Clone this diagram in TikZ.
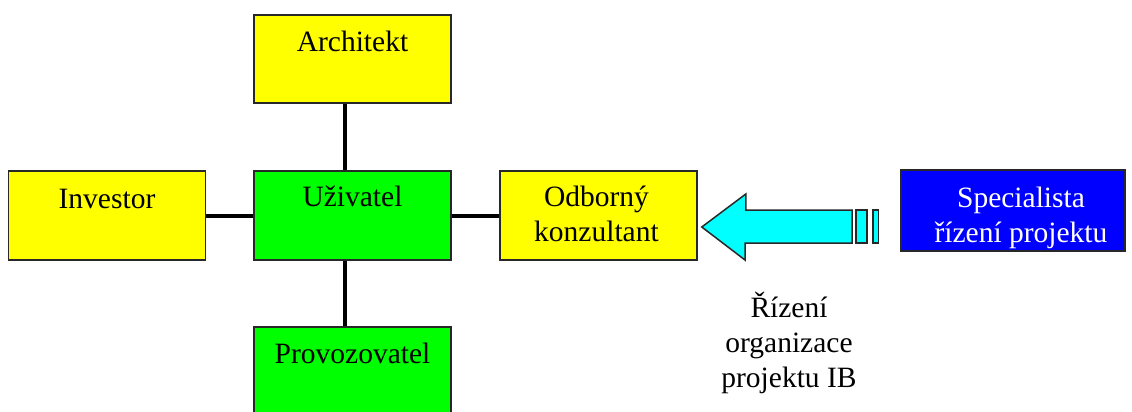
\documentclass[tikz,border=0pt]{standalone}
\usepackage{fontspec}
\setmainfont{Liberation Serif}
\usetikzlibrary{calc}
\definecolor{partyellow}{RGB}{255,255,0}
\definecolor{partgreen}{RGB}{0,255,0}
\definecolor{partblue}{RGB}{0,0,255}
\definecolor{flowcyan}{RGB}{0,255,255}
\definecolor{edgegray}{RGB}{40,40,40}
\tikzset{
  partybox/.style={draw=edgegray, line width=1.5pt, minimum width=197pt,
    minimum height=89pt, inner sep=0pt},
  % multi-line captions: base anchor sits on the last line
  boxtext/.style={anchor=base, align=center, inner sep=0pt,
    font=\fontsize{29.5}{35}\selectfont},
  link/.style={line width=4pt, black},
  flow/.style={draw=edgegray, line width=1.5pt, fill=flowcyan, line join=miter}
}
\begin{document}
\begin{tikzpicture}[x=1pt,y=-1pt]
\useasboundingbox (0,0) rectangle (1132,412);
\clip (0,0) rectangle (1132,412);

% participant boxes
\node[partybox, fill=partyellow, minimum height=88pt] (arch) at (352.5,59) {};
\node[partybox, fill=partyellow] (inv)  at (107,215.5) {};
\node[partybox, fill=partgreen]  (uziv) at (352.5,215.5) {};
\node[partybox, fill=partyellow] (odb)  at (598.5,215.5) {};
\node[partybox, fill=partgreen]  (prov) at (352.5,371.5) {};
\node[partybox, fill=partblue, minimum width=224pt, minimum height=81pt] (spec) at (1013,210.5) {};

% box captions
\node[boxtext] (archT) at ($(arch.north)+(0,37)$) {Architekt};
\node[boxtext] (invT)  at ($(inv.north)+(0,38)$) {Investor};
\node[boxtext] (uzivT) at ($(uziv.north)+(0,36)$) {Uživatel};
\node[boxtext] (odbT)  at ($(odb.north)+(-2,71)$) {Odborný\\konzultant};
\node[boxtext] (provT) at ($(prov.north)+(0,37)$) {Provozovatel};
\node[boxtext, text=white] (specT) at ($(spec.north)+(8,73)$) {Specialista\\řízení projektu};

% connections around the user
\draw[link] ([xshift=-7.5pt]arch.south) -- ([xshift=-7.5pt]uziv.north);
\draw[link] ([xshift=-7.5pt]uziv.south) -- ([xshift=-7.5pt]prov.north);
\draw[link] (inv.east) -- (uziv.west);
\draw[link] (uziv.east) -- (odb.west);

% block arrow from the specialist to the consultant
\coordinate (tip) at ($(odb.east)+(4,11.5)$);
\coordinate (tail) at ($(spec.west)+(-22,32.5)$);
\draw[flow] (tip) -- ++(44,-33) -- ++(0,16) -- (852,210) -- (852,243)
  -- (745,243) -- ++(0,17) -- cycle;
\draw[flow] (856,210) rectangle (867,243);
\draw[flow] (873,210) rectangle (tail);

% arrow caption
\node[boxtext] (flowT) at (789,387) {Řízení\\organizace\\projektu IB};
\end{tikzpicture}
\end{document}
